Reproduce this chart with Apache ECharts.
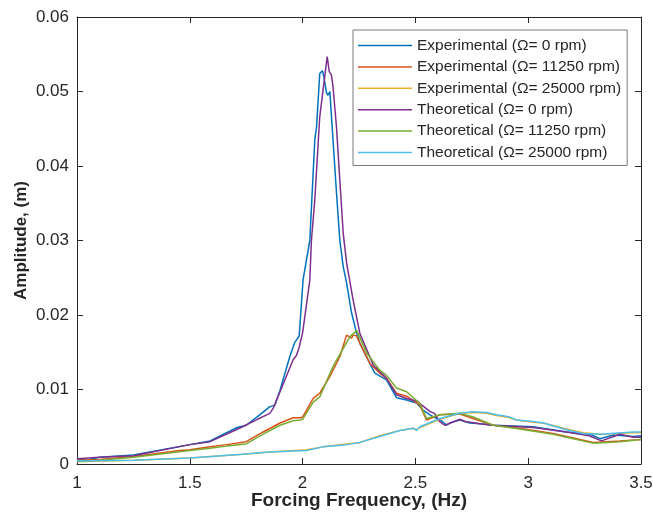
<!DOCTYPE html>
<html>
<head>
<meta charset="utf-8">
<script src="https://cdn.jsdelivr.net/npm/echarts@6/dist/echarts.min.js"></script>
<style>
html,body{margin:0;padding:0;background:#fff;}
#c{width:653px;height:521px;}
</style>
</head>
<body>
<div id="c"></div>
<script>
// ---- data (frequency in Hz, amplitude in m) ----
const xTicks = [1, 1.5, 2, 2.5, 3, 3.5];
const yTicks = [0, 0.01, 0.02, 0.03, 0.04, 0.05, 0.06];

const seriesNames = [
  'Experimental (\u03A9= 0 rpm)',
  'Experimental (\u03A9= 11250 rpm)',
  'Experimental (\u03A9= 25000 rpm)',
  'Theoretical (\u03A9= 0 rpm)',
  'Theoretical (\u03A9= 11250 rpm)',
  'Theoretical (\u03A9= 25000 rpm)'
];
const seriesColors = ['#0072BD', '#D95319', '#EDB120', '#7E2F8E', '#77AC30', '#4DBEEE'];

const exp0Freq = [1.0,1.04,1.1,1.25,1.5,1.59,1.71,1.75,1.81,1.855,1.877,1.9,1.943,1.965,1.985,2.002,2.032,2.054,2.062,2.076,2.088,2.094,2.106,2.113,2.121,2.125,2.15,2.165,2.18,2.195,2.217,2.239,2.254,2.298,2.32,2.372,2.416,2.461,2.505,2.535,2.58,2.608,2.638,2.652,2.697,2.741,2.786,2.845,3.022,3.17,3.274,3.318,3.378,3.466,3.5];
const exp0Amp  = [0.0007,0.0005,0.0009,0.0012,0.0026,0.0031,0.0049,0.0052,0.0066,0.0077,0.0079,0.0099,0.0144,0.0163,0.0172,0.0247,0.030,0.0435,0.0453,0.0524,0.0528,0.052,0.0498,0.0495,0.050,0.048,0.0365,0.030,0.0265,0.0243,0.0203,0.0176,0.0162,0.0135,0.0122,0.0113,0.0089,0.0086,0.0082,0.0072,0.0063,0.006,0.0052,0.0055,0.0059,0.0055,0.0054,0.0052,0.005,0.0043,0.004,0.0034,0.0039,0.0037,0.0038];

const exp11Freq = [1.0,1.1,1.25,1.455,1.5,1.59,1.663,1.75,1.825,1.9,1.958,1.99,2.0,2.047,2.076,2.12,2.165,2.195,2.217,2.224,2.239,2.254,2.298,2.342,2.372,2.416,2.461,2.52,2.549,2.608,2.697,2.756,2.845,2.963,3.11,3.2,3.288,3.407,3.5];
const exp11Amp  = [0.0005,0.0006,0.001,0.0018,0.0019,0.0023,0.0026,0.003,0.0043,0.0055,0.0062,0.0062,0.0063,0.0088,0.0095,0.0117,0.0144,0.0173,0.0169,0.0173,0.0172,0.0162,0.0135,0.0122,0.0115,0.0095,0.0091,0.0079,0.0059,0.0066,0.0067,0.0061,0.0052,0.0048,0.0041,0.0035,0.0029,0.0031,0.0033];

const exp25Freq = [1.0,1.25,1.5,1.735,1.855,2.017,2.09,2.195,2.254,2.342,2.431,2.49,2.505,2.52,2.608,2.697,2.756,2.815,2.86,2.919,2.948,3.022,3.067,3.17,3.244,3.318,3.466,3.5];
const exp25Amp  = [0.0003,0.0005,0.0008,0.0013,0.0016,0.0019,0.0023,0.0027,0.0029,0.0038,0.0045,0.0048,0.0046,0.0049,0.006,0.0068,0.0069,0.0068,0.0065,0.0062,0.0059,0.0056,0.0055,0.0047,0.0042,0.004,0.0042,0.0042];

const th0Freq = [1.0,1.1,1.25,1.5,1.59,1.72,1.8,1.855,1.87,1.9,1.958,1.973,1.985,2.0,2.032,2.039,2.054,2.076,2.098,2.109,2.118,2.128,2.135,2.15,2.165,2.18,2.195,2.224,2.254,2.313,2.372,2.416,2.461,2.512,2.52,2.567,2.585,2.608,2.63,2.697,2.72,2.786,2.845,3.022,3.17,3.27,3.325,3.407,3.466,3.5];
const th0Amp  = [0.0007,0.0009,0.0011,0.0026,0.003,0.0048,0.006,0.0068,0.0075,0.0097,0.014,0.0146,0.0157,0.0176,0.0247,0.030,0.0354,0.0466,0.052,0.0547,0.0527,0.0522,0.0506,0.0453,0.0381,0.031,0.027,0.022,0.0175,0.0133,0.0115,0.0093,0.0088,0.0084,0.0081,0.007,0.0068,0.0057,0.0052,0.006,0.0057,0.0054,0.0052,0.0049,0.0043,0.0038,0.0031,0.004,0.0036,0.0036];

const th11Freq = [1.0,1.1,1.25,1.5,1.59,1.663,1.75,1.825,1.9,1.958,1.99,2.0,2.047,2.076,2.135,2.21,2.24,2.284,2.342,2.372,2.416,2.461,2.52,2.549,2.608,2.697,2.756,2.845,2.963,3.11,3.2,3.288,3.407,3.5];
const th11Amp  = [0.0004,0.0005,0.0009,0.0018,0.0021,0.0024,0.0027,0.004,0.0052,0.0058,0.0059,0.006,0.0083,0.009,0.0131,0.0171,0.0179,0.0149,0.0126,0.0119,0.0102,0.0097,0.0081,0.0061,0.0066,0.0068,0.0063,0.0052,0.0047,0.004,0.0034,0.0028,0.003,0.0033];

const th25Freq = [1.0,1.25,1.5,1.735,1.81,1.855,2.017,2.09,2.195,2.254,2.342,2.431,2.49,2.505,2.52,2.608,2.697,2.756,2.815,2.86,2.919,2.948,3.022,3.067,3.17,3.244,3.318,3.466,3.5];
const th25Amp  = [0.0004,0.0005,0.0008,0.0013,0.0015,0.0016,0.0018,0.0023,0.0026,0.0029,0.0037,0.0045,0.0048,0.0045,0.005,0.0061,0.0068,0.007,0.0069,0.0066,0.0063,0.0059,0.0057,0.0055,0.0046,0.0041,0.004,0.0043,0.0043];

const allFreq = [exp0Freq, exp11Freq, exp25Freq, th0Freq, th11Freq, th25Freq];
const allAmp  = [exp0Amp, exp11Amp, exp25Amp, th0Amp, th11Amp, th25Amp];

// ---- chart ----
const chart = echarts.init(document.getElementById('c'), null, {renderer: 'canvas'});
const txt = '#262626';
const fontFam = '"Liberation Sans", Arial, Helvetica, sans-serif';
const fmt = v => String(+(+v).toFixed(3));

function axisCommon(showLabel) {
  return {
    axisLine: {show: true, onZero: false, lineStyle: {color: txt, width: 1}},
    axisTick: {show: true, inside: true, length: 6, lineStyle: {color: txt, width: 1}},
    splitLine: {show: false},
    axisLabel: {show: showLabel, color: txt, fontSize: 17, fontFamily: fontFam, formatter: fmt}
  };
}

const xMin = xTicks[0], xMax = xTicks[xTicks.length-1], xInt = xTicks[1]-xTicks[0];
const yMin = yTicks[0], yMax = yTicks[yTicks.length-1], yInt = yTicks[1]-yTicks[0];

const option = {
  backgroundColor: '#ffffff',
  animation: false,
  grid: {left: 77, right: 12, top: 17, bottom: 57, containLabel: false, outerBoundsMode: 'none'},
  xAxis: [
    Object.assign({type: 'value', position: 'bottom', min: xMin, max: xMax, interval: xInt,
      name: 'Forcing Frequency, (Hz)', nameLocation: 'middle', nameGap: 27.5, nameMoveOverlap: false,
      nameTextStyle: {color: txt, fontSize: 19, fontWeight: 'bold', fontFamily: fontFam}},
      axisCommon(true), {axisLabel: {show: true, color: txt, fontSize: 17, fontFamily: fontFam, margin: 11, formatter: fmt}}),
    Object.assign({type: 'value', position: 'top', min: xMin, max: xMax, interval: xInt}, axisCommon(false))
  ],
  yAxis: [
    Object.assign({type: 'value', position: 'left', min: yMin, max: yMax, interval: yInt,
      name: 'Amplitude, (m)', nameLocation: 'middle', nameGap: 47.5, nameMoveOverlap: false,
      nameTextStyle: {color: txt, fontSize: 17, fontWeight: 'bold', fontFamily: fontFam}},
      axisCommon(true), {axisLabel: {show: true, color: txt, fontSize: 17, fontFamily: fontFam, margin: 8, formatter: fmt}}),
    Object.assign({type: 'value', position: 'right', min: yMin, max: yMax, interval: yInt}, axisCommon(false))
  ],
  legend: {
    orient: 'vertical',
    left: 353, top: 30,
    padding: [7.5, 6, 5, 5],
    icon: 'rect',
    itemWidth: 54, itemHeight: 1.5, itemGap: 5.4,
    borderColor: '#7a7a7a', borderWidth: 1,
    backgroundColor: '#ffffff',
    textStyle: {color: txt, fontSize: 15.5, fontFamily: fontFam},
    data: seriesNames
  },
  series: seriesNames.map((name, i) => ({
    name: name,
    type: 'line',
    xAxisIndex: 0, yAxisIndex: 0,
    symbol: 'none',
    smooth: false,
    lineStyle: {color: seriesColors[i], width: 1.5},
    itemStyle: {color: seriesColors[i]},
    data: allFreq[i].map((f, j) => [f, allAmp[i][j]])
  }))
};
chart.setOption(option);
</script>
</body>
</html>
